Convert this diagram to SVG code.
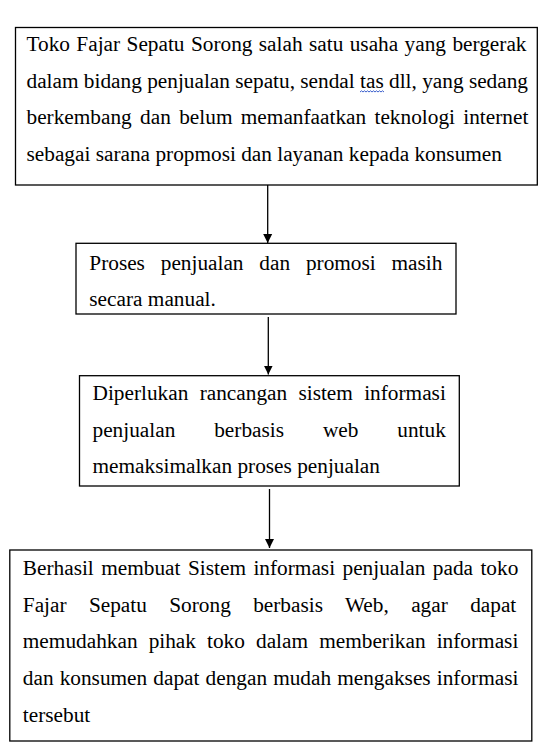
<svg xmlns="http://www.w3.org/2000/svg" width="548" height="750" viewBox="0 0 548 750">
  <style>
    .box { fill: #ffffff; stroke: #000000; stroke-width: 1.3; }
    .t { font-family: "Liberation Serif", "Times New Roman", serif; font-size: 21.3px; fill: #000000; }
    .conn { stroke: #000000; stroke-width: 1.3; fill: none; }
    .spell { stroke: #3a5fcd; stroke-width: 1; fill: none; }
  </style>
  <defs>
    <marker id="arrow" markerUnits="userSpaceOnUse" markerWidth="10" markerHeight="11" refX="9" refY="5" orient="auto">
      <path d="M0,0.5 L9,5 L0,9.5 Z" fill="#000000"/>
    </marker>
  </defs>
  <rect width="548" height="750" fill="#ffffff"/>

  <g id="node1">
    <rect class="box" x="15.5" y="27.5" width="521.8" height="157.5"/>
    <text class="t" x="26.5" y="51" word-spacing="1.08">Toko Fajar Sepatu Sorong salah satu usaha yang bergerak</text>
    <text class="t" x="26.5" y="87.7">dalam bidang penjualan sepatu, sendal tas dll, yang sedang</text>
    <text class="t" x="26.5" y="124.4" word-spacing="3.03">berkembang dan belum memanfaatkan teknologi internet</text>
    <text class="t" x="26.5" y="161.1">sebagai sarana propmosi dan layanan kepada konsumen</text>
    <path class="spell" d="M360,92 l1.5,-1.2 l1.5,1.2 l1.5,-1.2 l1.5,1.2 l1.5,-1.2 l1.5,1.2 l1.5,-1.2 l1.5,1.2 l1.5,-1.2 l1.5,1.2 l1.5,-1.2 l1.5,1.2 l1.5,-1.2 l1.5,1.2 l1.5,-1.2 l1.5,1.2"/>
  </g>

  <g id="node2">
    <rect class="box" x="76" y="243.3" width="380" height="70.7"/>
    <text class="t" x="89.3" y="269.5" word-spacing="10.5">Proses penjualan dan promosi masih</text>
    <text class="t" x="89.3" y="306.2">secara manual.</text>
  </g>

  <g id="node3">
    <rect class="box" x="79.5" y="375.7" width="379.8" height="110.3"/>
    <text class="t" x="92.5" y="400" word-spacing="6.0">Diperlukan rancangan sistem informasi</text>
    <text class="t" x="92.5" y="436.7" word-spacing="33.6">penjualan berbasis web untuk</text>
    <text class="t" x="92.5" y="473.4">memaksimalkan proses penjualan</text>
  </g>

  <g id="node4">
    <rect class="box" x="9.8" y="550" width="522" height="191"/>
    <text class="t" x="22.8" y="575" word-spacing="2.15">Berhasil membuat Sistem informasi penjualan pada toko</text>
    <text class="t" x="22.8" y="611.7" word-spacing="17.05">Fajar Sepatu Sorong berbasis Web, agar dapat</text>
    <text class="t" x="22.8" y="648.4" word-spacing="5.78">memudahkan pihak toko dalam memberikan informasi</text>
    <text class="t" x="22.8" y="685.1" word-spacing="0.78">dan konsumen dapat dengan mudah mengakses informasi</text>
    <text class="t" x="22.8" y="721.8">tersebut</text>
  </g>

  <g id="connectors">
    <line class="conn" x1="267.7" y1="185" x2="267.7" y2="243" marker-end="url(#arrow)"/>
    <line class="conn" x1="268.3" y1="317" x2="268.3" y2="374.5" marker-end="url(#arrow)"/>
    <line class="conn" x1="269.5" y1="489" x2="269.5" y2="548" marker-end="url(#arrow)"/>
  </g>
</svg>
